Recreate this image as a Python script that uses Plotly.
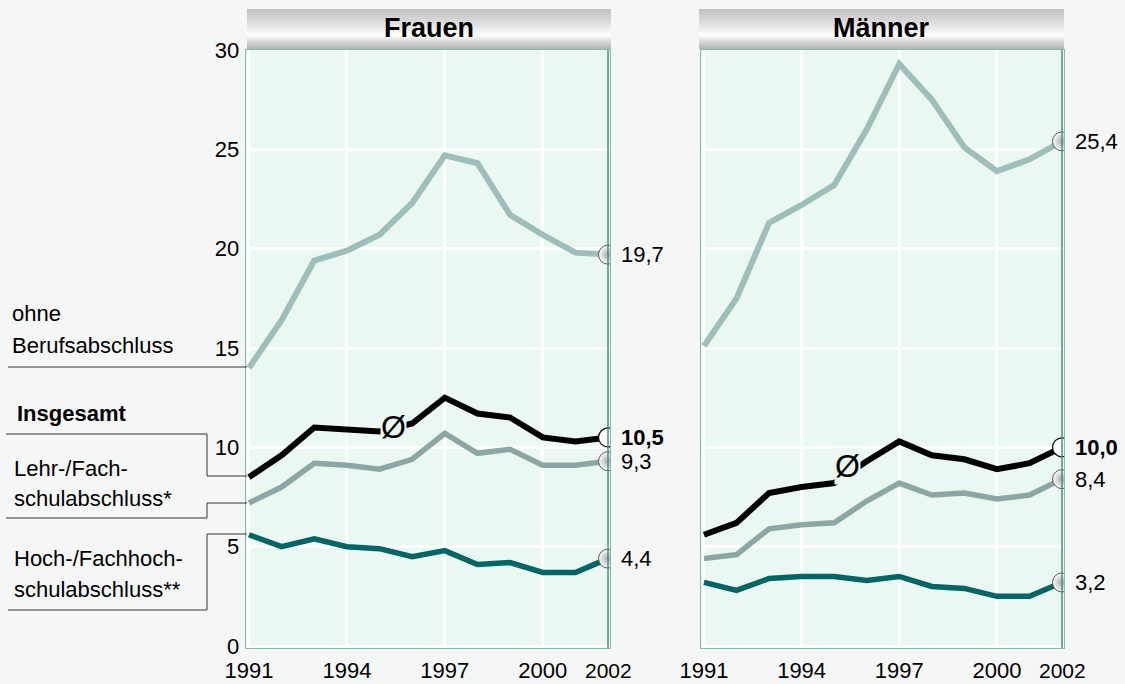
import plotly.graph_objects as go

W, H = 1125, 684

years = [1991, 1992, 1993, 1994, 1995, 1996, 1997, 1998, 1999, 2000, 2001, 2002]

f_ohne = [14.0, 16.4, 19.4, 19.9, 20.7, 22.3, 24.7, 24.3, 21.7, 20.7, 19.8, 19.7]
f_ins = [8.5, 9.6, 11.0, 10.9, 10.8, 11.2, 12.5, 11.7, 11.5, 10.5, 10.3, 10.5]
f_lehr = [7.2, 8.0, 9.2, 9.1, 8.9, 9.4, 10.7, 9.7, 9.9, 9.1, 9.1, 9.3]
f_hoch = [5.6, 5.0, 5.4, 5.0, 4.9, 4.5, 4.8, 4.1, 4.2, 3.7, 3.7, 4.4]

m_ohne = [15.1, 17.5, 21.3, 22.2, 23.2, 26.0, 29.3, 27.5, 25.1, 23.9, 24.5, 25.4]
m_ins = [5.6, 6.2, 7.7, 8.0, 8.2, 9.3, 10.3, 9.6, 9.4, 8.9, 9.2, 10.0]
m_lehr = [4.4, 4.6, 5.9, 6.1, 6.2, 7.3, 8.2, 7.6, 7.7, 7.4, 7.6, 8.4]
m_hoch = [3.2, 2.8, 3.4, 3.5, 3.5, 3.3, 3.5, 3.0, 2.9, 2.5, 2.5, 3.2]

panel_titles = ["Frauen", "Männer"]
end_labels_f = ["19,7", "10,5", "9,3", "4,4"]
end_labels_m = ["25,4", "10,0", "8,4", "3,2"]
x_ticks = [1991, 1994, 1997, 2000]
y_ticks = [0, 5, 10, 15, 20, 25, 30]
avg_pos = [(1995.42, 11.0), (1995.42, 9.05)]

FONT = "Arial, 'Liberation Sans', sans-serif"
C_OHNE = "#9cbfbc"
C_LEHR = "#8ba7a5"
C_INS = "#000000"
C_HOCH = "#006565"
PLOT_BG = "#eaf8f1"
PAPER_BG = "#f5f7f6"


def px(x):
    return x / W


def py(y):
    return (H - y) / H


fig = go.Figure()

series_f = [f_ohne, f_ins, f_lehr, f_hoch]
series_m = [m_ohne, m_ins, m_lehr, m_hoch]
colors = [C_OHNE, C_INS, C_LEHR, C_HOCH]
widths = [6, 6, 5.5, 5.5]

for p, (series, labels) in enumerate([(series_f, end_labels_f), (series_m, end_labels_m)]):
    xa = "x" if p == 0 else "x2"
    ya = "y" if p == 0 else "y2"
    for i, s in enumerate(series):
        fig.add_trace(go.Scatter(x=years, y=s, mode="lines", xaxis=xa, yaxis=ya,
                                 line=dict(color=colors[i], width=widths[i]),
                                 hoverinfo="skip", showlegend=False))
    # end markers
    for i, s in enumerate(series):
        if i == 1:
            mk = dict(size=19, color="white", line=dict(color="#111", width=1.3))
        else:
            mk = dict(size=19, color="#ffffff", gradient=dict(type="radial", color="#a8a8a8"),
                      line=dict(color="#555", width=1))
        fig.add_trace(go.Scatter(x=[years[-1]], y=[s[-1]], mode="markers", xaxis=xa, yaxis=ya,
                                 marker=mk, hoverinfo="skip", showlegend=False))
        fig.add_annotation(x=years[-1], y=s[-1], xref=xa, yref=ya, text=labels[i],
                           showarrow=False, xanchor="left", yanchor="middle", xshift=11,
                           font=dict(family=FONT, size=22, color="black",
                                     weight="bold" if i == 1 else "normal"))
    # average symbol
    ax_, ay_ = avg_pos[p]
    fig.add_annotation(x=ax_, y=ay_, xref=xa, yref=ya, text="Ø", showarrow=False,
                       font=dict(family=FONT, size=32, color="black"),
                       bgcolor=PLOT_BG, borderpad=0, xanchor="center", yanchor="middle")
    # 2002 label (sits a little lower than the other year labels)
    fig.add_annotation(x=2002, y=0, xref=xa, yref=ya, text="2002", showarrow=False,
                       xanchor="center", yanchor="middle", yshift=-24, borderpad=0,
                       font=dict(family=FONT, size=21, color="black"))
    # 2002 vertical line
    fig.add_shape(type="line", xref=xa, yref=f"{ya} domain", x0=2002, x1=2002, y0=0, y1=1,
                  line=dict(color="#3f8f8c", width=1.5), layer="above")

xrange = [1990.9, 2002.07]
yrange = [-0.1, 30]
ydom = [py(648), py(50)]

axis_common = dict(range=xrange, tickvals=x_ticks, showgrid=True, gridcolor="white", gridwidth=3,
                   zeroline=False, showline=True, linecolor="#86b5b2", linewidth=1, mirror=True,
                   ticks="", tickfont=dict(family=FONT, size=22, color="black"),
                   ticklabelstandoff=3, fixedrange=True, automargin=False)
yaxis_common = dict(range=yrange, tickvals=y_ticks, showgrid=True, gridcolor="white", gridwidth=3,
                    zeroline=False, showline=True, linecolor="#86b5b2", linewidth=1, mirror=True,
                    ticks="", tickfont=dict(family=FONT, size=22, color="black"),
                    domain=ydom, fixedrange=True, automargin=False)

fig.update_layout(
    width=W, height=H,
    margin=dict(l=0, r=0, t=0, b=0, autoexpand=False),
    paper_bgcolor=PAPER_BG, plot_bgcolor=PLOT_BG,
    font=dict(family=FONT, color="black"),
    xaxis=dict(domain=[px(245.7), px(610.3)], anchor="y", **axis_common),
    xaxis2=dict(domain=[px(700.7), px(1064.3)], anchor="y2", **axis_common),
    yaxis=dict(anchor="x", ticklabelstandoff=1, **yaxis_common),
    yaxis2=dict(anchor="x2", showticklabels=False, **yaxis_common),
)

# banners with vertical gradient
banners = [(247, 611), (699, 1064)]
top, bot = 9, 49
n = bot - top
for (x0, x1), title in zip(banners, panel_titles):
    for k in range(n):
        t = (k + 0.5) / n
        peak = 0.66
        if t < peak:
            v = 196 + (255 - 196) * (t / peak) ** 1.3
        else:
            v = 255 - (255 - 178) * ((t - peak) / (1 - peak)) ** 0.9
        v = int(round(v))
        col = f"rgb({v},{v},{v})"
        fig.add_shape(type="rect", xref="paper", yref="paper",
                      x0=px(x0), x1=px(x1), y0=py(top + k + 1), y1=py(top + k),
                      line=dict(width=0), fillcolor=col, layer="above")
    fig.add_annotation(x=px((x0 + x1) / 2), y=py(28), xref="paper", yref="paper", text=title,
                       showarrow=False, xanchor="center", yanchor="middle",
                       font=dict(family=FONT, size=27, color="black", weight="bold"))

# left side labels
left_texts = [
    ("ohne", 10, 314, False), ("Berufsabschluss", 10, 346, False),
    ("Insgesamt", 15, 413, True),
    ("Lehr-/Fach-", 12, 468, False), ("schulabschluss*", 12, 498, False),
    ("Hoch-/Fachhoch-", 12, 558, False), ("schulabschluss**", 12, 589, False),
]
for txt, x, y, bold in left_texts:
    fig.add_annotation(x=px(x), y=py(y), xref="paper", yref="paper", text=txt, showarrow=False,
                       xanchor="left", yanchor="middle",
                       font=dict(family=FONT, size=22, color="black", weight="bold" if bold else "normal"))

# bracket lines
brackets = [
    [(8, 367), (247, 367)],
    [(6, 434), (207, 434), (207, 476), (247, 476)],
    [(247, 503), (207, 503), (207, 518), (6, 518)],
    [(247, 534), (207, 534), (207, 610), (8, 610)],
]
for pts in brackets:
    path = "M " + " L ".join(f"{px(x)},{py(y)}" for x, y in pts)
    fig.add_shape(type="path", xref="paper", yref="paper", path=path,
                  line=dict(color="#333333", width=1))

fig.write_html("out.html", config={"displayModeBar": False},
               post_script="document.body.style.margin='0';document.body.style.overflow='hidden';")
